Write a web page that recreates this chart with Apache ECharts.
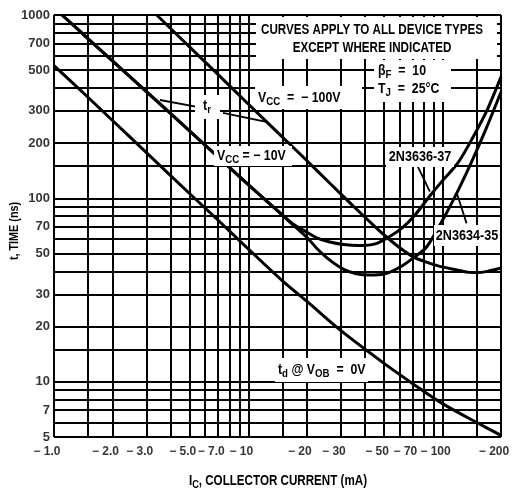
<!DOCTYPE html>
<html><head><meta charset="utf-8">
<script src="https://cdn.jsdelivr.net/npm/echarts@6/dist/echarts.min.js"></script>
<style>html,body{margin:0;padding:0;background:#fff}#c{width:512px;height:492px}</style>
</head><body><div id="c"></div>
<script>
// ---- data ----
const xGridValues = [1, 1.5, 2, 3, 4, 5, 6, 7, 8, 9, 10, 15, 20, 30, 40, 50, 60, 70, 80, 90, 100, 150, 200];
const yGridValues = [5, 6, 7, 8, 9, 10, 15, 20, 30, 40, 50, 60, 70, 80, 90, 100, 150, 200, 300, 400, 500, 600, 700, 800, 900, 1000];
const xTickValues = [1, 2, 3, 5, 7, 10, 20, 30, 50, 70, 100, 200];
const xTickLabels = ['− 1.0', '− 2.0', '− 3.0', '− 5.0', '− 7.0', '− 10', '− 20', '− 30', '− 50', '− 70', '− 100', '− 200'];
const yTickValues = [5, 7, 10, 20, 30, 50, 70, 100, 200, 300, 500, 700, 1000];
const yTickLabels = ['5', '7', '10', '20', '30', '50', '70', '100', '200', '300', '500', '700', '1000'];

// t_d @ V_OB = 0V
const tdCurrent = [1, 1.5, 2, 3, 5, 7, 10, 15, 20, 30, 50, 70, 100, 150, 200];
const tdTime    = [530, 355, 266, 177, 106, 76, 53, 35.5, 27.5, 19, 12.6, 9.8, 7.6, 6.0, 5.1];

// t_r, V_CC = -10V (common part)
const tr10Current = [1.1, 1.5, 2, 3, 5, 7, 10, 15];
const tr10Time    = [1000, 742, 562, 381, 233, 168, 119, 81];
// branch 2N3636-37
const tr3636Current = [17, 20, 22.5, 26, 31, 37, 45, 53.5, 62, 72, 86, 100, 120, 144, 170, 200];
const tr3636Time    = [72.5, 65.5, 61, 58, 56, 55.3, 56.5, 62, 69, 81, 103, 125, 156, 217, 305, 460];
// branch 2N3634-35
const tr3634Current = [17, 20, 22.5, 26, 31, 36, 42, 50, 60, 72, 83, 100, 120, 140, 168.5, 200];
const tr3634Time    = [71.6, 61.5, 53.5, 46.5, 41, 38.8, 38.2, 38.7, 42, 48, 54.5, 76, 110, 155, 243, 380];

// t_r, V_CC = -100V
const tr100Current = [3.38, 5, 7, 10, 15, 20, 26.3, 35, 45, 51.5, 60, 70.6, 80, 94, 115, 138, 150, 170, 200];
const tr100Time    = [1000, 668, 473, 327, 216, 161, 121, 90, 70, 61.6, 54, 48, 45.5, 43, 41, 39.5, 39.4, 40, 41.7];

// annotation arrows [fromCurrent, fromTime, toCurrent, toTime]
const arrowTrLeft  = [5.63, 314, 3.51, 344];
const arrowTrRight = [7.41, 293, 12.2, 262];
const arrow3636    = [74.6, 149, 86.1, 109];
const arrow3634    = [133, 73.1, 118.5, 106.6];

// ---- chart ----
const FONT = '"Liberation Sans", Arial, sans-serif';
const zip = (xs, ys) => xs.map((x, i) => [x, ys[i]]);
const chart = echarts.init(document.getElementById('c'), null, {renderer: 'canvas'});

function curve(name, data) {
  return {
    name, type: 'line', data, showSymbol: false, smooth: 0.3, z: 10,
    lineStyle: {color: '#000', width: 3}, itemStyle: {color: '#000'}, silent: true, animation: false, clip: true
  };
}
const arrowPair = a => [{coord: [a[0], a[1]]}, {coord: [a[2], a[3]]}];

function richFor(size) {
  return {
    s: {fontSize: Math.round(size * 0.75), fontFamily: FONT, fontWeight: 'bold', fill: '#000', padding: [Math.round(size * 0.5), 0, 0, 0]}
  };
}
function txt(x, y, text, align, size, sx, extra) {
  return Object.assign({
    type: 'text', x, y, z: 20, scaleX: sx,
    style: {text, fill: '#000', font: 'bold ' + size + 'px ' + FONT, align: align, verticalAlign: 'middle', rich: richFor(size)}
  }, extra || {});
}
function box(x, y, w, h) {
  return {type: 'rect', z: 15, shape: {x, y, width: w, height: h}, style: {fill: '#fff'}};
}

const option = {
  animation: false,
  backgroundColor: '#fff',
  grid: {left: 54, right: 11, top: 15, bottom: 55},
  xAxis: {type: 'log', logBase: 10, min: 1, max: 200,
    axisLine: {show: false}, axisTick: {show: false}, axisLabel: {show: false}, splitLine: {show: false}},
  yAxis: {type: 'log', logBase: 10, min: 5, max: 1000,
    axisLine: {show: false}, axisTick: {show: false}, axisLabel: {show: false}, splitLine: {show: false}},
  series: [
    { // grid lines
      type: 'line', data: [], z: 1, silent: true,
      markLine: {
        silent: true, symbol: 'none', animation: false, label: {show: false},
        lineStyle: {color: '#000', width: 2, type: 'solid'},
        data: xGridValues.map(v => ({xAxis: v})).concat(yGridValues.map(v => ({yAxis: v})))
      }
    },
    curve('td', zip(tdCurrent, tdTime)),
    curve('tr -10V 2N3636-37', zip(tr10Current.concat(tr3636Current), tr10Time.concat(tr3636Time))),
    curve('tr -10V 2N3634-35', zip(tr10Current.concat(tr3634Current), tr10Time.concat(tr3634Time))),
    curve('tr -100V', zip(tr100Current, tr100Time)),
    { // arrows
      type: 'line', data: [], z: 25, silent: true,
      markLine: {
        silent: true, animation: false, symbol: ['none', 'triangle'], symbolSize: [0, 10],
        label: {show: false}, lineStyle: {color: '#000', width: 1.8, type: 'solid'},
        data: [arrowPair(arrowTrLeft), arrowPair(arrowTrRight), arrowPair(arrow3636), arrowPair(arrow3634)]
      }
    },
    { // x tick labels
      type: 'scatter', data: xTickValues.map(v => [v, 5]), symbolSize: 0, z: 30, clip: false, silent: true,
      label: {show: true, position: 'bottom', distance: 9, offset: [-7, 0], color: '#000',
        fontFamily: FONT, fontSize: 12, fontWeight: 'bold',
        formatter: p => xTickLabels[p.dataIndex]}
    },
    { // y tick labels
      type: 'scatter', data: yTickValues.map(v => [1, v]), symbolSize: 0, z: 30, clip: false, silent: true,
      label: {show: true, position: 'left', distance: 4, color: '#000',
        fontFamily: FONT, fontSize: 13, fontWeight: 'bold',
        formatter: p => yTickLabels[p.dataIndex]}
    }
  ],
  graphic: {elements: [
    box(256, 17, 241, 42),
    txt(372, 30, 'CURVES APPLY TO ALL DEVICE TYPES', 'center', 14, 0.83),
    txt(372, 48, 'EXCEPT WHERE INDICATED', 'center', 14, 0.83),
    box(374, 60, 77, 42),
    txt(378, 71, 'β{s|F}  =  10', 'left', 14, 0.88),
    txt(378, 89, 'T{s|J}  =  25°C', 'left', 14, 0.88),
    box(255, 86, 107, 23),
    txt(258, 98, 'V{s|CC}  =  − 100V', 'left', 14, 0.88),
    box(195, 95, 25, 24),
    txt(207, 106, 't{s|r}', 'center', 14, 0.88),
    box(214, 146, 78, 20),
    txt(217, 156, 'V{s|CC} = − 10V', 'left', 14, 0.88),
    box(386, 147, 68, 20),
    txt(420, 157, '2N3636-37', 'center', 14, 0.9),
    box(434, 225, 66, 21),
    txt(467, 236, '2N3634-35', 'center', 14, 0.9),
    box(275, 358, 93, 24),
    txt(278, 370, 't{s|d} @ V{s|OB}  =  0V', 'left', 14, 0.88),
    txt(278, 481, 'I{s|C}, COLLECTOR CURRENT (mA)', 'center', 14, 0.83),
    txt(14, 231, 't, TIME (ns)', 'center', 13, 0.83, {rotation: Math.PI / 2})
  ]}
};
chart.setOption(option);
</script>
</body></html>
